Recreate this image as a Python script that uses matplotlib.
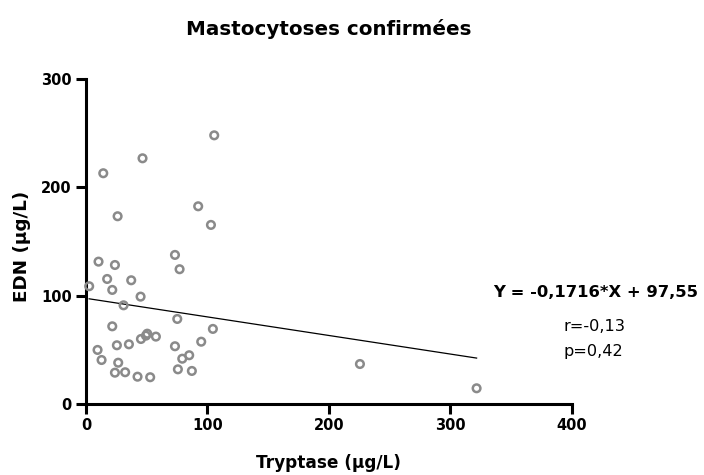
import numpy as np
import matplotlib
matplotlib.use("Agg")
import matplotlib.pyplot as plt

plt.rcParams['font.family'] = ['DejaVu Sans']

# Tryptase (µg/L) vs EDN (µg/L)
tryptase = [105.6, 46.6, 14.3, 92.4, 26.1, 102.9, 73.3, 10.4, 23.9, 77.1,
            17.5, 37.3, 2.7, 21.7, 45.0, 31.0, 75.2, 21.7, 104.5, 50.5,
            49.4, 57.6, 45.3, 94.9, 35.4, 25.5, 73.3, 9.6, 85.0, 79.3,
            12.9, 26.6, 75.7, 87.2, 23.9, 32.3, 42.5, 52.9, 225.5, 321.5]
edn = [248.0, 226.8, 213.0, 182.5, 173.3, 165.3, 137.6, 131.4, 128.3, 124.4,
       115.4, 114.2, 108.7, 105.3, 99.1, 91.1, 78.5, 71.7, 69.3, 64.9,
       63.1, 62.2, 60.0, 57.5, 55.1, 54.2, 53.3, 49.9, 45.0, 41.8,
       40.6, 38.1, 32.0, 30.5, 28.9, 29.3, 25.2, 24.7, 36.9, 14.5]

# regression reported on the chart
slope = -0.1716
intercept = 97.55
r_text = "r=-0,13"
p_text = "p=0,42"

fig = plt.figure(figsize=(7.04, 4.75), dpi=100)
ax = fig.add_axes([0.122, 0.1495, 0.6905, 0.6842])

ax.scatter(tryptase, edn, s=30, facecolors='none', edgecolors='#8a8a8a',
           linewidths=1.8, zorder=3, clip_on=False)

xs = np.array([min(tryptase), max(tryptase)])
ax.plot(xs, slope * xs + intercept, color='black', linewidth=0.9)

ax.set_xlim(0, 400)
ax.set_ylim(0, 300)
ax.set_xticks([0, 100, 200, 300, 400])
ax.set_yticks([0, 100, 200, 300])
ax.spines['top'].set_visible(False)
ax.spines['right'].set_visible(False)
for s in ['left', 'bottom']:
    ax.spines[s].set_linewidth(2.2)
ax.tick_params(width=2.2, length=7, labelsize=10.5, pad=3)
for lab in ax.get_xticklabels() + ax.get_yticklabels():
    lab.set_fontweight('bold')

ax.set_xlabel("Tryptase (µg/L)", fontsize=12.2, fontweight='bold', labelpad=15)
ax.set_ylabel("EDN (µg/L)", fontsize=13.2, fontweight='bold')
ax.yaxis.set_label_coords(-0.112, 0.486)
ax.set_title("Mastocytoses confirmées", fontsize=14.3, fontweight='bold', pad=32)

fig.text(0.992, 0.385, "Y = -0,1716*X + 97,55", fontsize=11.8,
         fontweight='bold', ha='right', va='center')
fig.text(0.80, 0.312, r_text, fontsize=11.6, ha='left', va='center')
fig.text(0.80, 0.259, p_text, fontsize=11.6, ha='left', va='center')

fig.savefig("out.png", dpi=100)
